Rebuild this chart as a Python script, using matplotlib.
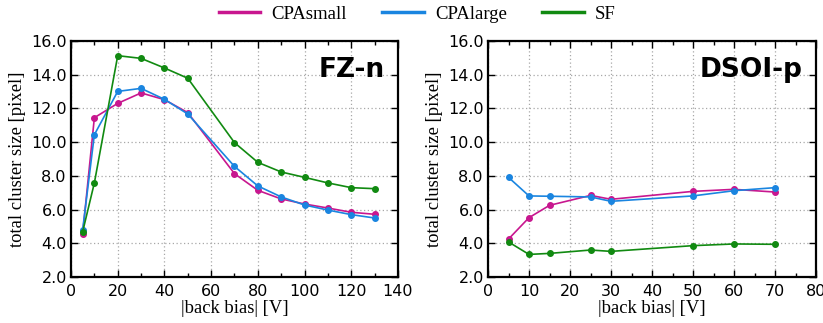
import matplotlib
matplotlib.use('Agg')
from matplotlib import pyplot as plt
from matplotlib.ticker import MultipleLocator, FormatStrFormatter

# FZ-n sensor
fz_bias = [5, 10, 20, 30, 40, 50, 70, 80, 90, 100, 110, 120, 130]
fz_cpasmall = [4.57, 11.45, 12.3, 12.92, 12.52, 11.75, 8.13, 7.14, 6.63, 6.33, 6.09, 5.84, 5.72]
fz_cpalarge = [4.81, 10.44, 13.01, 13.19, 12.54, 11.67, 8.56, 7.40, 6.75, 6.27, 5.97, 5.70, 5.50]
fz_sf = [4.69, 7.58, 15.13, 14.97, 14.40, 13.79, 9.97, 8.80, 8.23, 7.91, 7.58, 7.30, 7.24]

# DSOI-p sensor
dsoi_bias = [5, 10, 15, 25, 30, 50, 60, 70]
dsoi_cpasmall = [4.25, 5.52, 6.25, 6.84, 6.61, 7.08, 7.20, 7.04]
dsoi_cpalarge = [7.91, 6.81, 6.79, 6.75, 6.49, 6.81, 7.12, 7.30]
dsoi_sf = [4.08, 3.34, 3.40, 3.60, 3.52, 3.86, 3.96, 3.94]

colors = {'CPAsmall': '#c8178f', 'CPAlarge': '#1a85e0', 'SF': '#118a11'}
serif = ['Liberation Serif', 'DejaVu Serif']

fig = plt.figure(figsize=(8.23, 3.23), dpi=100)
ax1 = fig.add_axes([71 / 823, 1 - 277 / 323, 327 / 823, 236 / 323])
ax2 = fig.add_axes([488 / 823, 1 - 277 / 323, 328 / 823, 236 / 323])

panels = [
    (ax1, fz_bias, fz_cpasmall, fz_cpalarge, fz_sf, 'FZ-n', 140, 20, 10),
    (ax2, dsoi_bias, dsoi_cpasmall, dsoi_cpalarge, dsoi_sf, 'DSOI-p', 80, 10, 5),
]

for ax, x, small, large, sf, name, xmax, major, minor in panels:
    ax.plot(x, small, color=colors['CPAsmall'], marker='o', markersize=4, linewidth=1.2, label='CPAsmall')
    ax.plot(x, large, color=colors['CPAlarge'], marker='o', markersize=4, linewidth=1.2, label='CPAlarge')
    ax.plot(x, sf, color=colors['SF'], marker='o', markersize=4, linewidth=1.2, label='SF')
    ax.set_xlim(0, xmax)
    ax.set_ylim(2.0, 16.0)
    ax.xaxis.set_major_locator(MultipleLocator(major))
    ax.xaxis.set_minor_locator(MultipleLocator(minor))
    ax.yaxis.set_major_locator(MultipleLocator(2.0))
    ax.yaxis.set_major_formatter(FormatStrFormatter('%.1f'))
    ax.grid(which='major', color='#a8a8a8', linestyle=(0, (1, 2)), linewidth=0.9)
    ax.tick_params(axis='both', which='major', direction='in', length=5, width=1,
                   top=True, right=True, labelsize=11.5)
    ax.tick_params(axis='x', which='major', pad=5)
    ax.tick_params(axis='y', which='major', pad=3)
    ax.tick_params(axis='x', which='minor', direction='in', length=3, width=1, top=True)
    for s in ax.spines.values():
        s.set_linewidth(1.6)
    ax.set_xlabel('|back bias| [V]', fontsize=13.4, family=serif, labelpad=1)
    ax.set_ylabel('total cluster size [pixel]', fontsize=13.4, family=serif, labelpad=4)
    ax.text(0.96, 0.877, name, transform=ax.transAxes, ha='right', va='center',
            fontsize=19, fontweight='bold', family='DejaVu Sans')

handles, labels = ax1.get_legend_handles_labels()
leg_handles = [plt.Line2D([], [], color=h.get_color(), linewidth=2.5) for h in handles]
fig.legend(leg_handles, labels, loc='upper center', bbox_to_anchor=(0.507, 1.035), ncol=3,
           frameon=False, prop={'family': serif, 'size': 13.5}, handlelength=2.2,
           columnspacing=1.9, handletextpad=0.6)

plt.savefig('out.png', dpi=100)
